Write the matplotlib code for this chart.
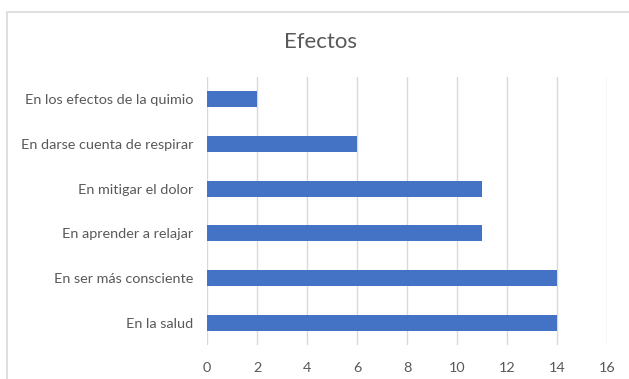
import matplotlib
matplotlib.use("Agg")
import matplotlib.pyplot as plt
from matplotlib.patches import Rectangle

# Datos del gráfico
categorias = ["En la salud", "En ser más consciente", "En aprender a relajar",
              "En mitigar el dolor", "En darse cuenta de respirar", "En los efectos de la quimio"]
valores = [14, 14, 11, 11, 6, 2]
ticks_x = [0, 2, 4, 6, 8, 10, 12, 14, 16]

plt.rcParams['font.family'] = ['Lato', 'DejaVu Sans']
gris = '#595959'

fig = plt.figure(figsize=(6.29, 3.79), dpi=100)
W, H = 629, 379

# Marco del gráfico (borde gris claro)
fig.patches.append(Rectangle((7 / W, -0.05), 1.1, 1 - 12 / H + 0.05, transform=fig.transFigure,
                             fill=False, edgecolor='#D9D9D9', linewidth=1.2))

ax = fig.add_axes([207 / W, 1 - 345 / H, (607 - 207) / W, (345 - 77) / H])

ax.barh(range(len(categorias)), valores, height=0.36, color='#4472C4', zorder=3)

ax.set_xlim(0, 16)
ax.set_ylim(-0.5, len(categorias) - 0.5)
ax.set_xticks(ticks_x)
ax.set_yticks(range(len(categorias)))
ax.set_yticklabels(categorias)
ax.xaxis.grid(True, color='#D9D9D9', linewidth=1, zorder=0)
ax.tick_params(axis='both', length=0, colors=gris, labelsize=10.4)
ax.tick_params(axis='x', pad=12)
ax.tick_params(axis='y', pad=10)
for s in ax.spines.values():
    s.set_visible(False)

fig.text(320 / W, 1 - 42 / H, "Efectos", ha='center', va='center', fontsize=16, color=gris)

fig.savefig("out.png", dpi=100)
